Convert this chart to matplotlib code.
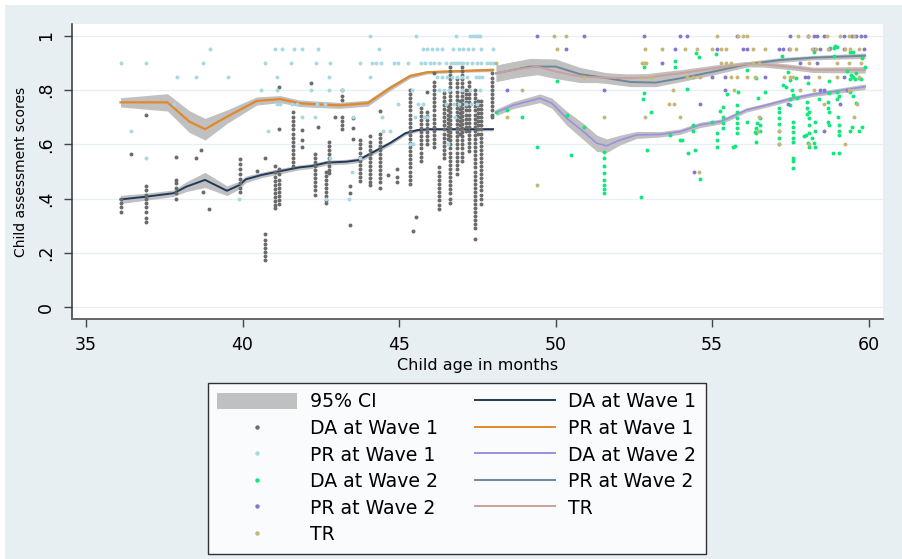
import numpy as np
import matplotlib
matplotlib.use("Agg")
from matplotlib import pyplot
from matplotlib.lines import Line2D
from matplotlib.patches import Patch, Rectangle

pyplot.rcParams["font.family"] = ["DejaVu Sans"]

# ---- scatter data ----
# DA at Wave 1: stacked columns, age -> list of scores
da1_col_x = [36.10, 36.43, 36.92, 37.88, 38.51, 38.67, 38.74, 38.93, 39.92, 40.47,
             40.72, 41.05, 41.15, 41.60, 41.89, 42.20, 42.32, 42.42, 42.67, 42.77,
             42.96, 43.17, 43.43, 43.54, 43.75, 44.07, 44.39, 44.66, 44.93, 45.35,
             45.46, 45.54, 45.69, 45.88, 46.12, 46.28, 46.45, 46.55, 46.63, 46.84,
             46.93, 47.02, 47.13, 47.24, 47.43, 47.52, 47.61, 47.98]
da1_col_y = [
    [.40, .385, .37, .35],
    [.565],
    [.71, .448, .43, .415, .40, .385, .37, .35, .33, .315],
    [.552, .47, .456, .438, .422, .40],
    [.548],
    [.58],
    [.425],
    [.36],
    [.547, .528, .509, .491, .472, .456, .44, .425],
    [.503],
    [.548, .269, .247, .232, .217, .202, .187, .172],
    [.52, .50, .48, .465, .45, .435, .42, .405, .39, .375, .365],
    [.81, .657, .51, .49, .47, .455, .44, .425, .41, .395, .38],
    [.72, .70, .685, .67, .655, .64, .625, .61, .595, .58, .565, .55, .535, .52],
    [.653, .616, .59],
    [.825],
    [.565, .55, .535, .52, .505, .49, .475, .46, .445, .43, .415],
    [.665],
    [.50, .485, .47, .455, .44, .425, .41, .395, .383],
    [.61, .595, .58, .565, .55, .535, .52, .505, .493],
    [.70],
    [.80, .78, .765, .70, .685, .67, .655],
    [.448, .42, .303],
    [.696, .66, .62],
    [.615, .60, .585, .57, .555, .54, .525, .51, .495, .48, .465],
    [.63, .61, .595, .58, .565, .55, .535, .52, .505, .49, .475, .46, .45],
    [.724, .64, .625, .61, .595, .58, .565, .55, .535, .52, .505, .49, .475, .46, .44],
    [.487],
    [.51, .478, .46],
    [.80, .785, .77, .755, .74, .725, .71, .695, .68, .665, .65, .635, .62, .605,
     .59, .575, .56, .545, .53, .515, .50, .485, .47, .455],
    [.28],
    [.333],
    [.735, .72, .705, .69, .675, .66, .645, .63, .615, .60, .585, .57, .555, .54],
    [.795, .72, .705, .69, .675, .66, .645, .63, .615, .60],
    [.862, .83, .815, .80, .785, .77, .755, .74, .725, .71, .695, .68, .665, .65,
     .635, .62, .605, .59],
    [.518, .50, .485, .47, .455, .44, .425, .41, .395, .376, .36],
    [.79, .775, .76, .745, .73, .715, .70, .685, .67, .655, .64, .625, .61, .595,
     .58, .565, .55],
    [.74, .725, .71, .695, .68, .665, .65, .635, .62],
    [.887, .87, .855, .84, .825, .81, .795, .78, .765, .75, .735, .72, .705, .69,
     .675, .66, .645, .63, .615, .60, .585, .57, .555, .54, .525, .51, .495, .48,
     .465, .45, .435, .42, .40, .383],
    [.84, .825, .81, .795, .78, .765, .75, .735, .72, .705, .69, .675, .66, .645,
     .63, .615, .60, .585, .57, .555, .54, .525, .51, .49],
    [.76, .745, .73, .715, .70, .685, .67, .655, .64],
    [.887, .87, .855, .84, .825, .81, .795, .78, .765, .75, .735, .72, .705, .69,
     .675, .66, .645, .63, .615, .60, .585, .57, .555, .54],
    [.80, .785, .77, .755, .74, .725, .71, .695, .68, .665, .65],
    [.83, .815, .80, .785, .77, .755, .74, .725, .71, .695, .68, .665, .65, .635,
     .62, .605, .59, .575],
    [.80, .785, .77, .755, .74, .725, .71, .695, .68, .665, .65, .635, .62, .605,
     .59, .575, .56, .545, .53, .515, .50, .485, .47, .455, .44, .425, .41, .395,
     .38, .365, .35, .335, .32, .305, .29, .25],
    [.76, .745, .73, .715, .70, .685, .67, .655, .64],
    [.76, .745, .73, .715, .70, .685, .67, .655, .64, .625, .61, .595, .58, .565,
     .55, .535, .52, .505, .49, .475, .46, .445, .43, .415, .40, .38],
    [.862, .845, .83, .815, .80, .785, .77, .755, .74, .725, .71, .70],
]

# PR at Wave 1: score -> ages
pr1_by_score = {
    1.00: [44.07, 45.54, 46.81, 47.27, 47.36, 47.45, 47.53, 47.6],
    0.95: [38.96, 41.04, 41.25, 41.65, 41.89, 42.42, 44.37, 45.77, 45.9, 46.05, 46.2,
           46.36, 46.73, 46.9, 47.05, 47.2, 47.37, 47.63, 48.0],
    0.90: [36.12, 36.92, 38.75, 40.72, 41.54, 42.36, 42.8, 43.75, 44.12, 44.25, 44.41,
           44.85, 44.95, 45.3, 45.7, 45.83, 45.98, 46.13, 46.28, 46.5, 46.65, 46.75,
           46.85, 46.95, 47.05, 47.16, 47.32, 47.48, 47.62, 47.8, 47.9, 48.0],
    0.85: [37.9, 38.5, 39.54, 41.1, 42.77, 44.07, 46.2, 46.36, 46.52, 46.68, 46.84,
           47.0, 47.16, 47.45, 47.55, 47.65],
    0.80: [40.6, 41.1, 42.2, 42.77, 43.17, 45.4, 46.27, 46.43, 46.6, 47.0, 47.27, 47.6],
    0.75: [37.8, 41.1, 41.2, 41.57, 41.73, 42.37, 42.64, 44.97, 45.6, 45.75, 46.5,
           46.76, 46.92, 47.13, 47.29, 47.5],
    0.70: [41.9, 42.3, 43.54, 44.45, 45.5, 45.8, 45.9, 46.8],
    0.65: [36.43, 40.8, 44.5, 44.7],
    0.60: [45.35, 45.45, 46.56],
    0.55: [36.92, 42.8, 43.75],
    0.50: [43.5],
    0.40: [39.9, 42.66, 43.4],
}

# PR at Wave 2: score -> ages
pr2_by_score = {
    1.00: [49.42, 50.91, 52.84, 53.98, 54.19, 55.81, 57.49, 58.07, 58.24, 58.34,
           58.56, 59.2, 59.46, 59.6, 59.75, 59.89],
    0.95: [50.34, 53.8, 55.15, 56.0, 56.1, 57.15, 57.28, 57.47, 58.24, 58.45, 58.72,
           59.2, 59.84],
    0.90: [53.41, 57.8, 58.35],
    0.85: [54.99, 55.41, 56.69, 57.97, 58.07, 59.2],
    0.80: [48.44, 51.55, 55.41, 58.45, 58.56, 59.3],
    0.75: [54.6, 57.44, 59.09],
    0.65: [58.56],
    0.50: [54.42],
}

# TR: score -> ages
tr_by_score = {
    1.00: [49.95, 50.34, 55.15, 55.82, 56.0, 56.1, 57.76, 58.07, 58.66, 59.09, 59.36,
           59.53],
    0.95: [50.06, 52.86, 53.41, 54.14, 54.51, 55.0, 55.27, 55.45, 56.3, 56.69, 57.5,
           57.68, 58.2, 58.33, 58.7, 59.25, 59.41, 59.68],
    0.90: [48.1, 52.75, 52.83, 52.9, 55.27, 55.43, 55.6, 56.32, 56.5, 58.1, 59.0,
           59.37, 59.75],
    0.85: [50.91, 52.7, 53.05, 54.19, 54.4, 54.6, 55.6, 55.81, 56.1, 56.37, 57.3, 57.5,
           57.6, 58.4, 59.0, 59.7],
    0.80: [48.92, 53.76, 55.7, 57.8, 58.25, 59.36],
    0.75: [53.63, 53.79, 58.56, 59.64],
    0.70: [48.44, 51.55, 52.86, 53.98, 56.5, 59.54],
    0.65: [56.48, 57.15],
    0.60: [57.15, 58.09, 59.25],
    0.50: [54.57],
    0.45: [49.42],
}

# DA at Wave 2
da2_x = [48.1, 48.44, 48.92, 49.42, 50.04, 50.38, 50.49, 50.92,
         51.55, 51.55, 51.55, 51.55, 51.55, 51.55, 51.55, 51.55,
         52.73, 52.84, 52.84, 52.8, 53.05, 52.91, 53.66, 53.8, 53.8, 53.98,
         54.57, 55.13, 54.19, 55.49, 55.84, 56.1, 56.4, 56.48, 56.69,
         55.36, 55.25, 55.35, 55.35, 55.35,
         55.81, 55.81, 55.81, 55.81, 55.81, 55.81,
         55.15, 55.15, 55.15, 54.99, 54.4, 54.4, 54.46, 54.24, 54.03, 54.6, 55.73,
         56.1, 56.4, 56.4, 56.4, 56.53, 56.53, 56.53,
         57.15, 57.15, 57.15, 57.15, 57.15, 57.15, 57.15,
         57.23, 57.28, 57.36, 57.44, 57.49, 57.55, 57.6, 57.5, 57.5,
         57.58, 57.58, 57.58, 57.58, 57.58, 57.58, 57.58,
         57.68, 57.7, 58.07, 58.02, 58.02, 58.02, 58.1, 58.1, 58.1, 57.99, 58.07,
         58.27, 58.3, 58.3, 58.1, 58.2,
         58.24, 58.43, 58.75, 58.88, 58.98, 58.9, 58.75, 59.0, 59.0, 59.05,
         59.07, 59.07, 59.07, 58.85, 59.07, 58.7, 58.7, 58.72, 58.7, 58.75,
         59.3, 59.4, 59.45, 59.5, 59.55, 59.6, 59.7, 59.75, 59.4, 59.5, 59.6, 59.4,
         59.7, 59.9, 59.8, 59.4, 59.5, 58.77, 58.93,
         59.03, 59.46, 59.78, 57.95, 58.1, 58.3, 56.37, 56.42, 57.6, 55.68, 54.5]
da2_y = [.718, .726, .702, .592, .832, .708, .56, .665,
         .571, .549, .521, .493, .469, .45, .435, .42,
         .407, .887, .791, .768, .72, .58, .635, .908, .887, .616,
         .921, .932, .803, .786, .795, .875, .844, .772, .795,
         .739, .723, .70, .68, .66,
         .745, .72, .696, .678, .66, .641,
         .641, .616, .592, .684, .672, .649, .58, .567, .616, .472, .595,
         .684, .662, .641, .608, .696, .672, .649,
         .733, .718, .696, .676, .649, .622, .60,
         .927, .82, .813, .868, .838, .80, .782, .766, .745,
         .684, .665, .647, .625, .608, .549, .512,
         .844, .772, .825, .758, .733, .711, .72, .696, .672, .635, .604,
         .604, .684, .649, .641, .622,
         .942, .768, .832, .957, .96, .925, .788, .795, .766, .78,
         .672, .649, .635, .567, .567, .755, .733, .718, .684, .672,
         .87, .84, .855, .85, .84, .865, .845, .84, .795, .778, .752, .649,
         .649, .887, .917, .94, .94, .955, .963,
         .70, .665, .665, .632, .59, .59, .645, .68, .54, .592, .936]

# ---- smoothed fits with 95% CI half widths ----
da1_line_x = [36.1, 36.9, 37.8, 38.2, 38.8, 39.5, 39.9, 40.1, 40.6, 41.1, 41.8, 42.2,
              42.7, 43.3, 43.7, 44.2, 44.7, 45.2, 45.6, 46.0, 46.8, 48.0]
da1_line_y = [.397, .407, .42, .444, .469, .429, .45, .471, .487, .499, .515, .52,
              .533, .536, .542, .573, .604, .641, .653, .656, .656, .656]
da1_ci = [.015, .013, .012, .018, .028, .018, .014, .012, .01, .01, .009, .009,
          .009, .009, .009, .009, .008, .007, .006, .005, .005, .006]

pr1_line_x = [36.1, 37.6, 38.3, 38.8, 39.5, 40.45, 41.2, 41.8, 42.2, 43.1, 44.0, 44.7,
              45.35, 45.9, 46.8, 48.0]
pr1_line_y = [.755, .755, .684, .656, .702, .76, .767, .752, .749, .744, .752, .807,
              .852, .866, .87, .875]
pr1_ci = [.017, .032, .04, .04, .025, .015, .013, .012, .012, .011, .011, .01,
          .008, .006, .005, .006]

da2_line_x = [48.1, 48.65, 49.5, 49.88, 50.36, 50.89, 51.32, 51.63, 52.06, 52.59,
              53.34, 53.98, 54.62, 55.25, 55.57, 56.1, 56.74, 57.49, 58.24, 58.88, 59.89]
da2_line_y = [.718, .745, .77, .752, .696, .647, .604, .595, .616, .635,
              .637, .647, .672, .684, .699, .727, .745, .768, .785, .795, .813]
da2_ci = [.012, .013, .016, .019, .026, .03, .03, .025, .018, .013,
          .01, .01, .01, .009, .009, .008, .008, .008, .008, .009, .01]

pr2_line_x = [48.1, 48.65, 49.18, 50.0, 50.78, 51.6, 52.4, 53.2, 54.0, 55.03, 56.1,
              57.17, 58.24, 59.89]
pr2_line_y = [.862, .875, .887, .887, .859, .845, .83, .828, .844, .868, .895,
              .911, .92, .927]
pr2_ci = [.03, .03, .03, .028, .025, .02, .017, .015, .013, .012, .01,
          .009, .008, .01]

tr_line_x = [48.1, 48.65, 49.4, 50.04, 50.78, 51.63, 52.27, 52.91, 53.55, 53.98,
             55.03, 56.1, 56.64, 57.38, 58.24, 59.89]
tr_line_y = [.862, .875, .887, .868, .85, .846, .844, .846, .856, .862,
             .88, .896, .895, .887, .875, .875]
tr_ci = [.03, .03, .03, .026, .022, .018, .016, .015, .014, .013,
         .012, .01, .01, .01, .01, .012]

x_ticks = [35, 40, 45, 50, 55, 60]
y_ticks = [0, 0.2, 0.4, 0.6, 0.8, 1.0]
y_tick_labels = ["0", ".2", ".4", ".6", ".8", "1"]

# colours
c_ci = "#c0c0c0"
c_da1_pt, c_pr1_pt, c_da2_pt, c_pr2_pt, c_tr_pt = "#6b6b6b", "#a8d8e4", "#0ee87c", "#8677cc", "#c6b777"
c_da1, c_pr1, c_da2, c_pr2, c_tr = "#1e3a5c", "#e2882a", "#9b8fe0", "#6d879c", "#c9a19b"


def flatten_cols(xs, ys):
    px, py = [], []
    for x, col in zip(xs, ys):
        px += [x] * len(col)
        py += col
    return px, py


def flatten_scores(d):
    px, py = [], []
    for score, ages in d.items():
        px += ages
        py += [score] * len(ages)
    return px, py


fig = pyplot.figure(figsize=(9.02, 5.59), dpi=100, facecolor="white")
fig.add_artist(Rectangle((5 / 902, 0), 1, 1 - 5 / 559, transform=fig.transFigure,
                         facecolor="#e8eff2", edgecolor="none", zorder=0))
ax = fig.add_axes([72 / 902, 1 - 319 / 559, 811 / 902, 295 / 559])
ax.set_facecolor("white")

# CI bands
for lx, ly, ci in [(da1_line_x, da1_line_y, da1_ci), (pr1_line_x, pr1_line_y, pr1_ci),
                   (da2_line_x, da2_line_y, da2_ci), (pr2_line_x, pr2_line_y, pr2_ci),
                   (tr_line_x, tr_line_y, tr_ci)]:
    ly, ci = np.array(ly), np.array(ci)
    ax.fill_between(lx, ly - ci, ly + ci, color=c_ci, lw=0, zorder=1)

# fitted lines
ax.plot(da1_line_x, da1_line_y, color=c_da1, lw=1.4, zorder=2)
ax.plot(pr1_line_x, pr1_line_y, color=c_pr1, lw=1.6, zorder=2)
ax.plot(da2_line_x, da2_line_y, color=c_da2, lw=1.2, zorder=2)
ax.plot(pr2_line_x, pr2_line_y, color=c_pr2, lw=1.4, zorder=2)
ax.plot(tr_line_x, tr_line_y, color=c_tr, lw=1.4, zorder=2)

# scatters
sx, sy = flatten_cols(da1_col_x, da1_col_y)
ax.scatter(sx, sy, s=8, color=c_da1_pt, lw=0, zorder=3)
sx, sy = flatten_scores(pr1_by_score)
ax.scatter(sx, sy, s=8, color=c_pr1_pt, lw=0, zorder=3)
ax.scatter(da2_x, da2_y, s=8, color=c_da2_pt, lw=0, zorder=3)
sx, sy = flatten_scores(pr2_by_score)
ax.scatter(sx, sy, s=8, color=c_pr2_pt, lw=0, zorder=3)
sx, sy = flatten_scores(tr_by_score)
ax.scatter(sx, sy, s=8, color=c_tr_pt, lw=0, zorder=3)

ax.set_xlim(34.55, 60.46)
ax.set_ylim(-0.044, 1.044)
ax.set_xticks(x_ticks)
ax.set_yticks(y_ticks)
ax.set_yticklabels(y_tick_labels, rotation=90, va="center")
ax.tick_params(axis="both", labelsize=12.5, length=6, width=1, color="#444444", pad=6)
ax.grid(axis="y", color="#e6eff2", lw=0.9)
ax.set_axisbelow(True)
for side in ["top", "right"]:
    ax.spines[side].set_visible(False)
ax.spines["left"].set_color("#333333")
ax.spines["bottom"].set_color("#666666")
ax.spines["left"].set_linewidth(1.1)
ax.spines["bottom"].set_linewidth(1.4)
ax.set_xlabel("Child age in months", fontsize=11.5, labelpad=3)
ax.set_ylabel("Child assessment scores", fontsize=10, labelpad=7)

handles = [
    Patch(facecolor=c_ci, edgecolor="none"),
    Line2D([], [], ls="none", marker="o", ms=2.2, color=c_da1_pt),
    Line2D([], [], ls="none", marker="o", ms=2.2, color=c_pr1_pt),
    Line2D([], [], ls="none", marker="o", ms=2.2, color=c_da2_pt),
    Line2D([], [], ls="none", marker="o", ms=2.2, color=c_pr2_pt),
    Line2D([], [], ls="none", marker="o", ms=2.2, color=c_tr_pt),
    Line2D([], [], color=c_da1, lw=1.4),
    Line2D([], [], color=c_pr1, lw=1.4),
    Line2D([], [], color=c_da2, lw=1.4),
    Line2D([], [], color=c_pr2, lw=1.4),
    Line2D([], [], color=c_tr, lw=1.4),
]
labels = ["95% CI", "DA at Wave 1", "PR at Wave 1", "DA at Wave 2", "PR at Wave 2", "TR",
          "DA at Wave 1", "PR at Wave 1", "DA at Wave 2", "PR at Wave 2", "TR"]
leg = fig.legend(handles, labels, ncol=2, loc="upper left",
                 bbox_to_anchor=(208 / 902, 1 - 383 / 559), borderaxespad=0,
                 fontsize=13.6, handlelength=4.23, handleheight=1.0, handletextpad=0.69,
                 columnspacing=1.95, labelspacing=0.40, borderpad=0.5,
                 fancybox=False, frameon=True)
leg.get_frame().set_edgecolor("black")
leg.get_frame().set_linewidth(1.0)

pyplot.savefig("out.png", dpi=100, facecolor=fig.get_facecolor())
